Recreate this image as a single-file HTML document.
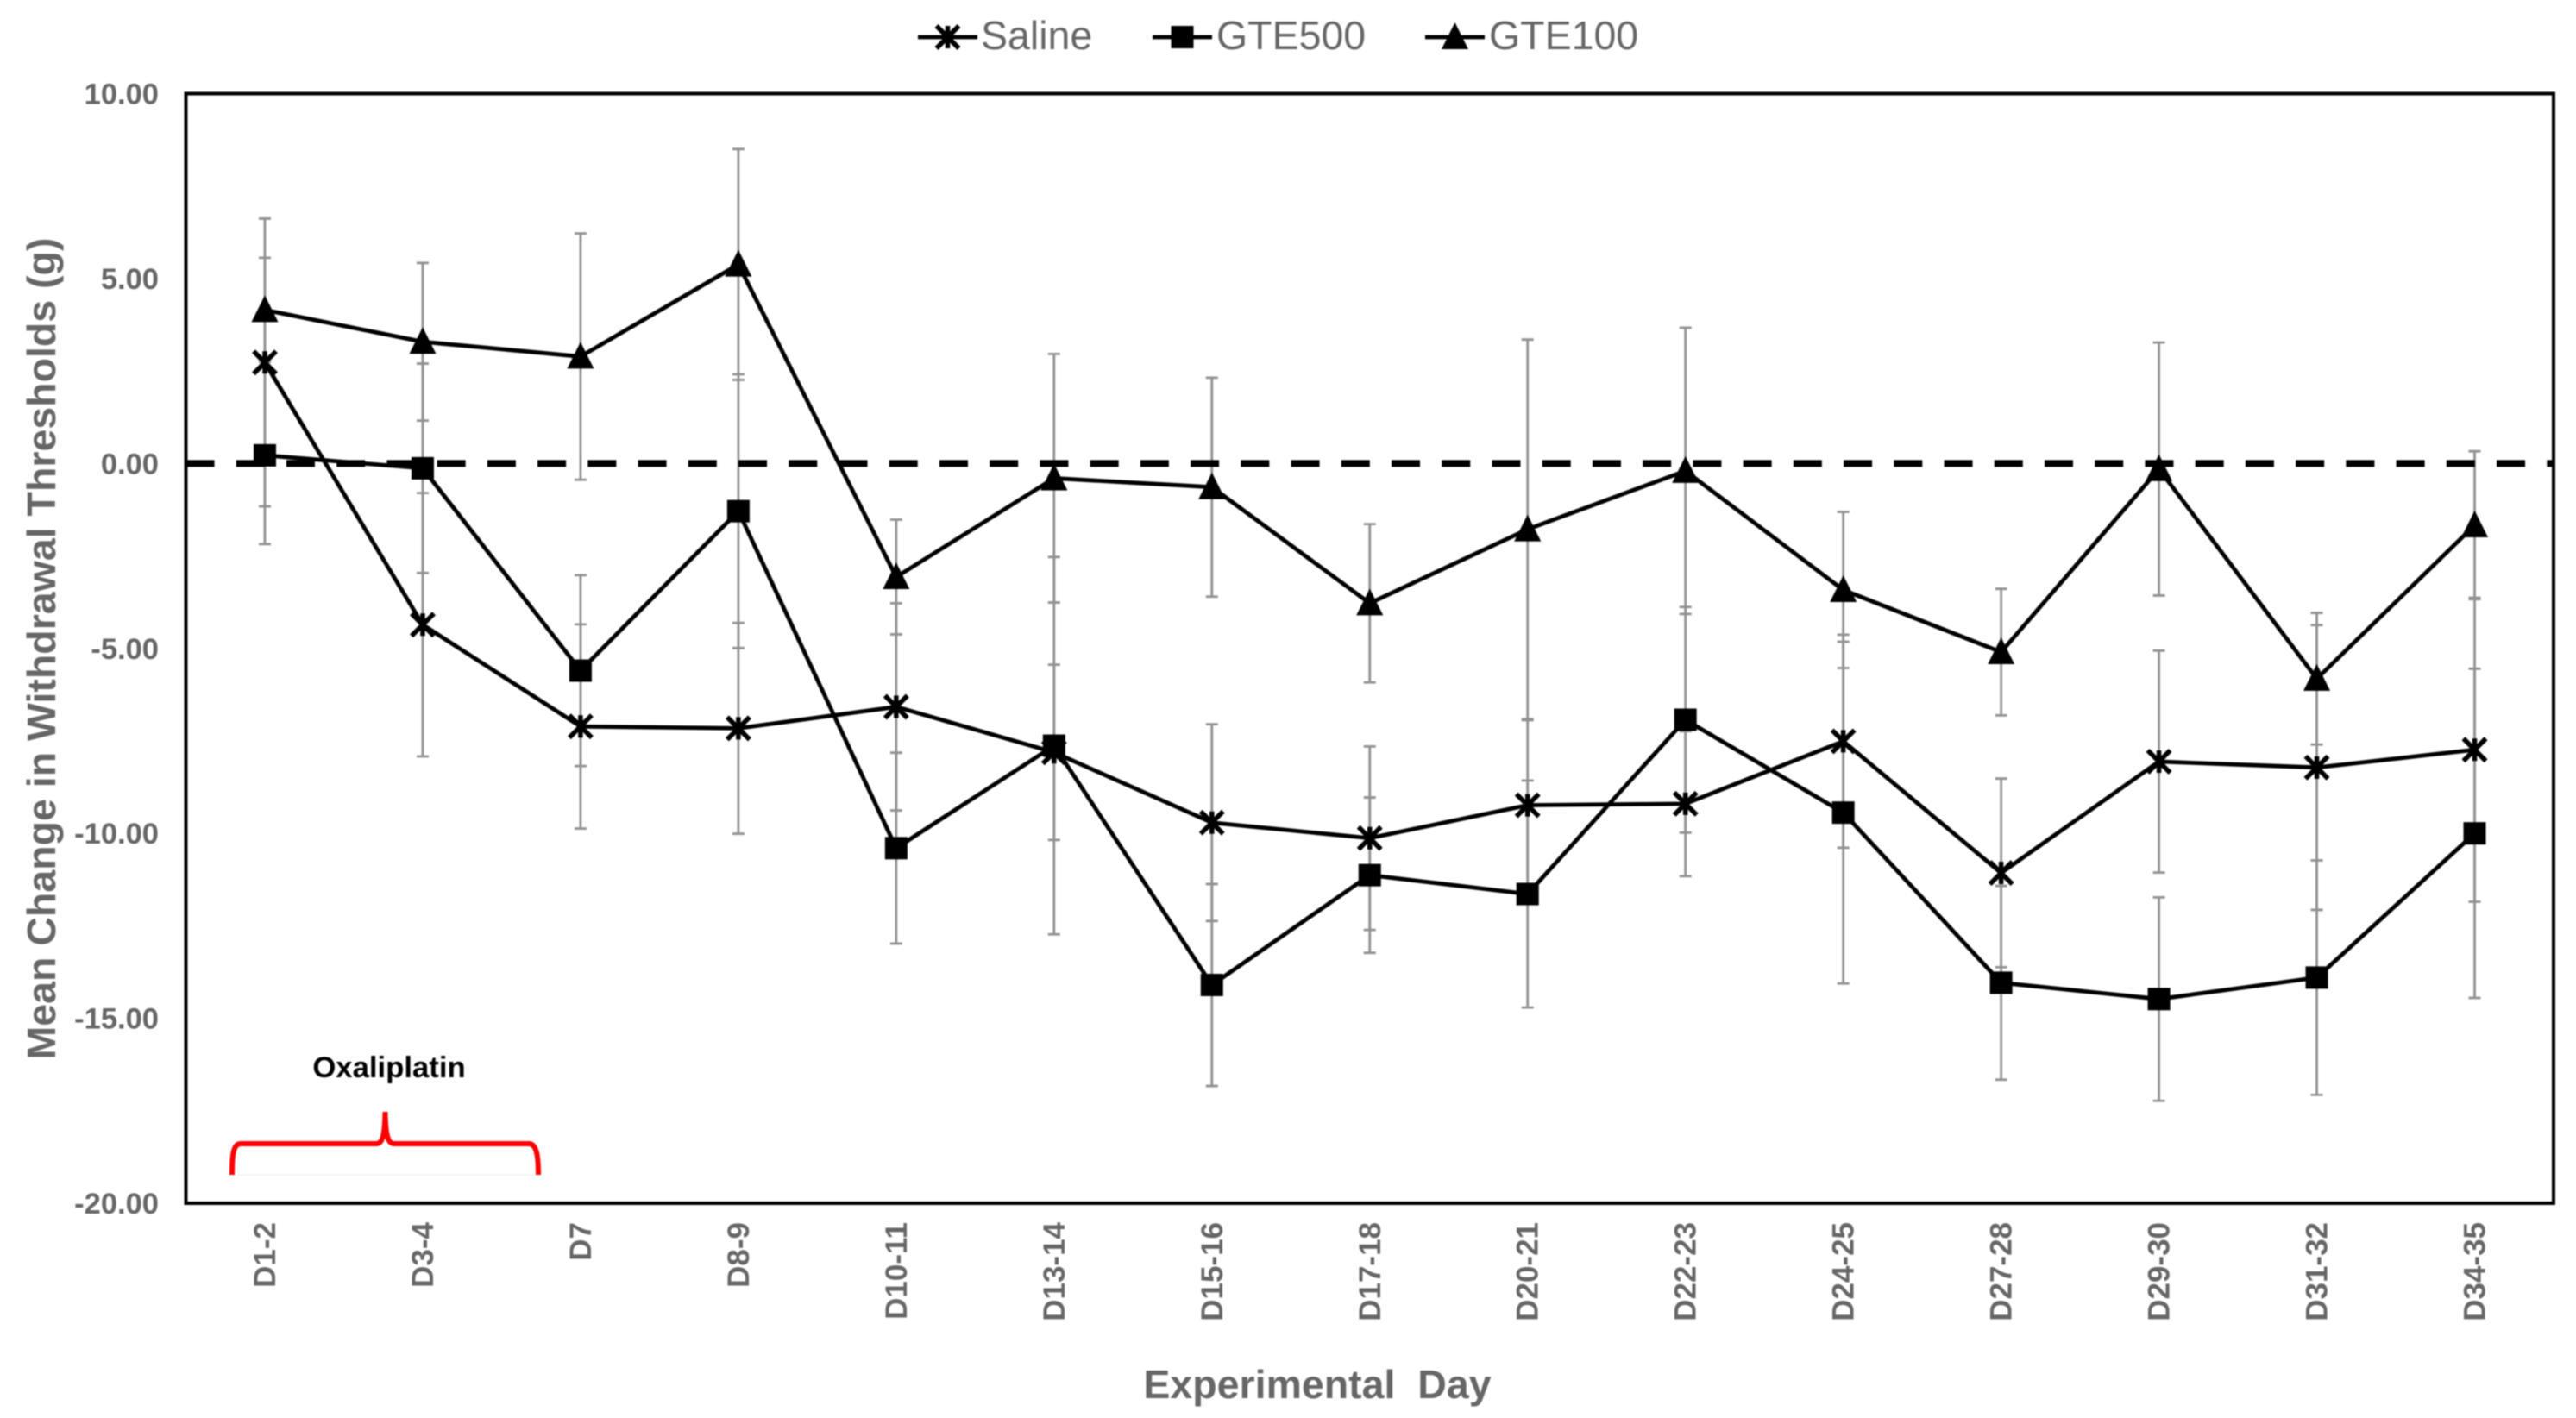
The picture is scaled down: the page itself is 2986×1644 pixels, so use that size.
<!DOCTYPE html>
<html lang="en">
<head>
<meta charset="utf-8">
<title>Mean Change in Withdrawal Thresholds</title>
<style>
html,body{margin:0;padding:0;background:#fff;width:2986px;height:1644px;overflow:hidden}
#chart{display:block;filter:blur(0.9px)}
text{font-family:"Liberation Sans",Arial,sans-serif}
</style>
</head>
<body>
<svg id="chart" xmlns="http://www.w3.org/2000/svg" width="2986" height="1644" viewBox="0 0 2986 1644">
  <rect x="0" y="0" width="2986" height="1644" fill="#fff"/>
  <g id="errors"></g>
  <line id="zero" stroke="#000" stroke-width="8" stroke-dasharray="33 25.23"/>
  <g id="series"></g>
  <rect x="215.5" y="108.5" width="2744.5" height="1286.5" fill="none" stroke="#000" stroke-width="4"/>
  <g id="yticks"></g>
  <g id="xticks"></g>
  <text transform="translate(64,752) rotate(-90)" text-anchor="middle" font-size="46.5" font-weight="700" fill="#666">Mean Change in Withdrawal Thresholds (g)</text>
  <text x="1527" y="1621" text-anchor="middle" font-size="46.5" font-weight="700" fill="#666" xml:space="preserve">Experimental  Day</text>
  <text x="451" y="1249" text-anchor="middle" font-size="34.7" font-weight="700" fill="#000">Oxaliplatin</text>
  <line x1="269" y1="1362" x2="624" y2="1362" stroke="#f4f4f4" stroke-width="2"/>
  <path d="M269 1362 C269 1340 270 1326 279 1326 L436 1326 C443 1326 446 1318 446.5 1289 C447 1318 450 1326 457 1326 L613 1326 C622 1326 624 1340 624 1362" fill="none" stroke="#ff0000" stroke-width="6"/>
  <g id="legend"></g>
</svg>
<script>
const categories = ["D1-2","D3-4","D7","D8-9","D10-11","D13-14","D15-16","D17-18","D20-21","D22-23","D24-25","D27-28","D29-30","D31-32","D34-35"];
const yTickLabels = ["10.00","5.00","0.00","-5.00","-10.00","-15.00","-20.00"];
const salineMean = [2.73,-4.36,-7.11,-7.16,-6.58,-7.81,-9.71,-10.13,-9.24,-9.2,-7.51,-11.07,-8.06,-8.22,-7.74];
const salineErr = [3.89,3.56,2.76,2.85,2.8,2.37,2.66,2.48,2.3,1.96,2.88,2.55,3.0,3.85,4.11];
const gte500Mean = [0.22,-0.13,-5.6,-1.29,-10.4,-7.63,-14.1,-11.13,-11.64,-6.93,-9.44,-14.04,-14.48,-13.9,-10.0];
const gte500Err = [2.4,2.83,2.58,3.7,2.58,5.1,2.73,2.1,3.07,3.05,4.62,2.62,2.75,3.17,4.45];
const gte100Mean = [4.15,3.29,2.89,5.38,-3.07,-0.4,-0.64,-3.78,-1.78,-0.2,-3.42,-5.1,-0.15,-5.82,-1.67];
const gte100Err = [1.41,2.13,3.33,3.12,1.55,3.36,2.96,2.14,5.13,3.87,2.11,1.71,3.42,1.78,2.0];
const seriesNames = ["Saline","GTE500","GTE100"];

const NS = "http://www.w3.org/2000/svg";
const plot = {left:215.5, top:108.5, right:2960, bottom:1395};
const yMax = 10, yMin = -20;
function xScale(i){ return plot.left + (i + 0.5) * (plot.right - plot.left) / categories.length; }
function yScale(v){ return plot.top + (yMax - v) / (yMax - yMin) * (plot.bottom - plot.top); }
function mk(tag, attrs, parent){
  const el = document.createElementNS(NS, tag);
  for (const k in attrs) el.setAttribute(k, attrs[k]);
  if (parent) parent.appendChild(el);
  return el;
}

const zero = document.getElementById('zero');
zero.setAttribute('x1', plot.left);
zero.setAttribute('x2', plot.right);
zero.setAttribute('y1', yScale(0));
zero.setAttribute('y2', yScale(0));

function drawMarker(kind, cx, cy, parent, name){
  let el;
  if (kind === 'Saline') {
    const r = 13, d = 13;
    el = mk('path', {d:`M${cx-r} ${cy-d}L${cx+r} ${cy+d}M${cx+r} ${cy-d}L${cx-r} ${cy+d}M${cx} ${cy-d}L${cx} ${cy+d}`, fill:'none', stroke:'#000', 'stroke-width':5.5}, parent);
  } else if (kind === 'GTE500') {
    el = mk('rect', {x:cx-13, y:cy-13, width:26, height:26, fill:'#000'}, parent);
  } else {
    el = mk('polygon', {points:`${cx},${cy-17} ${cx+15.5},${cy+14} ${cx-15.5},${cy+14}`, fill:'#000'}, parent);
  }
  
  
}

const errG = document.getElementById('errors');
const seriesG = document.getElementById('series');
const means = [salineMean, gte500Mean, gte100Mean];
const errs = [salineErr, gte500Err, gte100Err];

seriesNames.forEach(function(name, s){
  const key = name.toLowerCase();
  means[s].forEach(function(m, i){
    const g = mk('g', {}, errG);
    
    
    const x = xScale(i), hi = yScale(m + errs[s][i]), lo = yScale(m - errs[s][i]);
    mk('path', {d:`M${x} ${hi}L${x} ${lo}M${x-7} ${hi}L${x+7} ${hi}M${x-7} ${lo}L${x+7} ${lo}`, fill:'none', stroke:'#919191', 'stroke-width':2.8}, g);
  });
  const pts = means[s].map(function(m, i){ return xScale(i) + ',' + yScale(m); }).join(' ');
  const line = mk('polyline', {points:pts, fill:'none', stroke:'#000', 'stroke-width':4.8, 'stroke-linejoin':'miter'}, seriesG);
  
  
  means[s].forEach(function(m, i){
    drawMarker(name, xScale(i), yScale(m), seriesG, key + '-point');
  });
});

const yG = document.getElementById('yticks');
yTickLabels.forEach(function(label){
  const t = mk('text', {x:184, y:yScale(parseFloat(label)) + 12, 'text-anchor':'end', 'font-size':34.5, 'font-weight':700, fill:'#666'}, yG);
  
  
  t.textContent = label;
});

const xG = document.getElementById('xticks');
categories.forEach(function(label, i){
  const t = mk('text', {transform:`translate(${xScale(i) + 12},1417) rotate(-90)`, 'text-anchor':'end', 'font-size':35, 'font-weight':700, fill:'#666'}, xG);
  
  
  t.textContent = label;
});

const legendG = document.getElementById('legend');
const legendLineStart = [1064, 1336, 1652];
const legendTextStart = [1137, 1410, 1726];
seriesNames.forEach(function(name, s){
  const g = mk('g', {}, legendG);
  
  
  const x0 = legendLineStart[s];
  const sw = mk('line', {x1:x0, x2:x0 + 69, y1:43, y2:43, stroke:'#000', 'stroke-width':4.8}, g);
  
  
  drawMarker(name, x0 + 34.5, 43, g, name.toLowerCase() + '-legend-marker');
  const t = mk('text', {x:legendTextStart[s], y:57, 'font-size':46.5, fill:'#666'}, g);
  
  
  t.textContent = name;
});
</script>
</body>
</html>
